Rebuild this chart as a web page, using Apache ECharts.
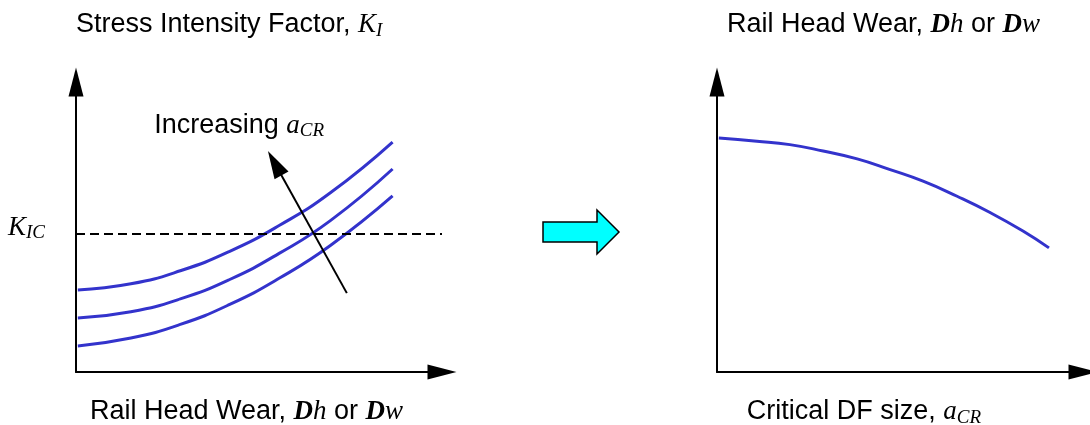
<!DOCTYPE html>
<html><head><meta charset="utf-8">
<script src="https://cdn.jsdelivr.net/npm/echarts@6/dist/echarts.min.js"></script>
<style>html,body{margin:0;padding:0;background:#fff}#c{width:1090px;height:425px}</style>
</head><body><div id="c"></div>
<script>
// ---- Left panel: stress intensity factor vs rail head wear (three crack sizes)
const wearX   = [0.05, 1.5, 2.85, 4.2, 5.55, 6.95, 8.65];
const kiLarge = [2.83, 3.04, 3.49, 4.16, 5.05, 6.18, 7.93];
const kiMid   = [1.86, 2.08, 2.52, 3.19, 4.09, 5.22, 7.00];
const kiSmall = [0.90, 1.17, 1.64, 2.33, 3.23, 4.36, 6.07];
const kIC = 4.76;
const arrowFrom = [7.40, 2.72];
const arrowTo   = [5.43, 7.20];
// ---- Right panel: allowable rail head wear vs critical DF size
const aCrX      = [0.05, 1.09, 1.99, 2.90, 3.83, 4.73, 5.63, 6.56, 7.46, 8.36, 9.07];
const wearLimit = [8.07, 7.96, 7.84, 7.62, 7.35, 6.98, 6.58, 6.06, 5.50, 4.86, 4.28];

const SANS = 'Liberation Sans', SERIF = 'Liberation Serif';
const FS = 27, LH = 30, BLUE = '#3333cc';
const rich = {
  t: {fontFamily: SANS, fontSize: FS, lineHeight: LH, color: '#000'},
  i: {fontFamily: SERIF, fontStyle: 'italic', fontSize: FS, lineHeight: LH, color: '#000'},
  b: {fontFamily: SERIF, fontStyle: 'italic', fontWeight: 'bold', fontSize: FS, lineHeight: LH, color: '#000'},
  s: {fontFamily: SERIF, fontStyle: 'italic', fontSize: 19, lineHeight: 20, verticalAlign: 'bottom', color: '#000'}
};
const txtKI   = '{t|Stress Intensity Factor, }{i|K}{s|I}';
const txtWear = '{t|Rail Head Wear, }{b|D}{i|h}{t| or }{b|D}{i|w}';
const txtACR  = '{t|Critical DF size, }{i|a}{s|CR}';
const txtInc  = '{t|Increasing }{i|a}{s|CR}';
const txtKIC  = '{i|K}{s|IC}';

const axisLine = {show: true, onZero: false, symbol: ['none', 'triangle'], symbolSize: [15, 29],
  lineStyle: {color: '#000', width: 2}};
function xAx(g, name, pad) {
  return {type: 'value', gridIndex: g, min: 0, max: 10, axisLine, axisTick: {show: false},
    axisLabel: {show: false}, splitLine: {show: false},
    name, nameLocation: 'middle', nameGap: 25, nameTextStyle: {rich, padding: pad}};
}
function yAx(g, name, pad) {
  return {type: 'value', gridIndex: g, min: 0, max: 10, axisLine, axisTick: {show: false},
    axisLabel: {show: false}, splitLine: {show: false},
    name, nameLocation: 'end', nameGap: 42,
    nameTextStyle: {rich, align: 'left', verticalAlign: 'bottom', padding: pad}};
}
function curve(g, xs, ys, extra) {
  return Object.assign({type: 'line', xAxisIndex: g, yAxisIndex: g, silent: true,
    data: xs.map((x, i) => [x, ys[i]]), smooth: true, symbol: 'none',
    lineStyle: {color: BLUE, width: 3}}, extra || {});
}

const chart = echarts.init(document.getElementById('c'));
chart.setOption({
  animation: false,
  grid: [
    {left: 76, top: 82, width: 366, height: 290, containLabel: false, outerBoundsMode: 'none'},
    {left: 717, top: 82, width: 366, height: 290, containLabel: false, outerBoundsMode: 'none'}
  ],
  xAxis: [xAx(0, txtWear, [0, 25, 0, 0]), xAx(1, txtACR, [0, 72, 0, 0])],
  yAxis: [yAx(0, txtKI, [0, 0, 0, 0]), yAx(1, txtWear, [0, 0, 0, 10])],
  series: [
    curve(0, wearX, kiLarge, {markLine: {silent: true, animation: false,
      symbol: ['none', 'triangle'], symbolSize: [16, 28],
      lineStyle: {color: '#000', width: 2, type: 'solid'},
      label: {show: true, position: 'end', distance: 26, formatter: txtInc, rich, padding: [0, 46, 0, 0]},
      data: [[{coord: arrowFrom}, {coord: arrowTo}]]}}),
    curve(0, wearX, kiMid, {markLine: {silent: true, animation: false,
      symbol: ['none', 'none'],
      lineStyle: {color: '#000', width: 1.8, type: [9, 5]},
      label: {show: true, position: 'start', distance: 31, formatter: txtKIC, rich, padding: [0, 0, 12, 0]},
      data: [{yAxis: kIC}]}}),
    curve(0, wearX, kiSmall),
    curve(1, aCrX, wearLimit)
  ],
  graphic: [{type: 'polygon', silent: true,
    shape: {points: [[543, 222], [597, 222], [597, 210], [619, 232], [597, 254], [597, 242], [543, 242]]},
    style: {fill: '#00ffff', stroke: '#000', lineWidth: 1.5}}]
});
</script></body></html>
